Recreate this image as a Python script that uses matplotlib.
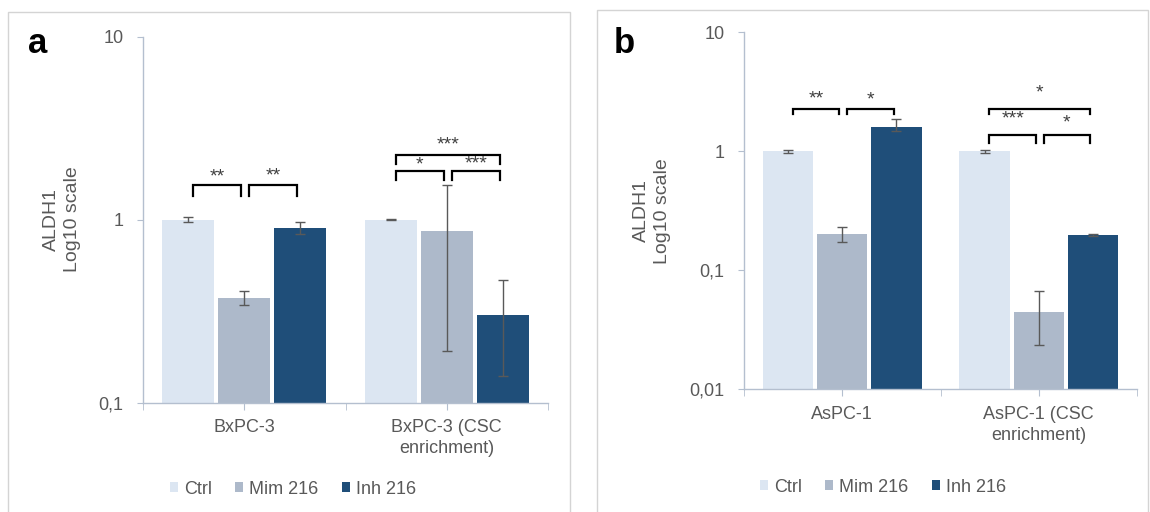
import matplotlib
matplotlib.use("Agg")
import matplotlib.pyplot as plt
from matplotlib.patches import Rectangle
from matplotlib.ticker import FixedLocator, NullLocator

# ======================
# global style
# ======================
plt.rcParams.update(
    {
        "font.family": ["Liberation Sans", "DejaVu Sans"],
        "font.size": 13,
        "text.color": "#595959",
        "axes.edgecolor": "#b4bfcf",
        "axes.linewidth": 1.0,
        "xtick.color": "#b4bfcf",
        "ytick.color": "#b4bfcf",
        "xtick.labelcolor": "#595959",
        "ytick.labelcolor": "#595959",
        "xtick.labelsize": 13,
        "ytick.labelsize": 13,
    }
)

# ======================
# data
# ======================
SERIES = ["Ctrl", "Mim 216", "Inh 216"]
COLORS = ["#dce6f2", "#adb9ca", "#1f4e79"]

# panel a
A_CATEGORIES = ["BxPC-3", "BxPC-3 (CSC\nenrichment)"]
A_CTRL = [1.0, 1.0]
A_MIM = [0.373, 0.87]
A_INH = [0.897, 0.30]
A_CTRL_ERR = [[0.035, 0.003], [0.035, 0.003]]  # [lower, upper]
A_MIM_ERR = [[0.03, 0.68], [0.033, 0.68]]
A_INH_ERR = [[0.066, 0.16], [0.07, 0.17]]
A_YTICKS = [0.1, 1, 10]
A_YTICKLABELS = ["0,1", "1", "10"]
# (category, bar i, bar j, bracket top, leg end, label, label y)
A_SIG = [
    (0, 0, 1, 1.54, 1.34, "**", 1.70),
    (0, 1, 2, 1.54, 1.34, "**", 1.72),
    (1, 0, 1, 1.84, 1.64, "*", 1.98),
    (1, 1, 2, 1.84, 1.64, "***", 2.00),
    (1, 0, 2, 2.25, 2.02, "***", 2.57),
]

# panel b
B_CATEGORIES = ["AsPC-1", "AsPC-1 (CSC\nenrichment)"]
B_CTRL = [1.0, 1.0]
B_MIM = [0.202, 0.0445]
B_INH = [1.59, 0.199]
B_CTRL_ERR = [[0.03, 0.03], [0.03, 0.03]]
B_MIM_ERR = [[0.029, 0.021], [0.03, 0.022]]
B_INH_ERR = [[0.12, 0.003], [0.29, 0.003]]
B_YTICKS = [0.01, 0.1, 1, 10]
B_YTICKLABELS = ["0,01", "0,1", "1", "10"]
B_SIG = [
    (0, 0, 1, 2.27, 2.06, "**", 2.77),
    (0, 1, 2, 2.27, 2.06, "*", 2.68),
    (1, 0, 2, 2.27, 2.06, "*", 3.10),
    (1, 0, 1, 1.38, 1.18, "***", 1.88),
    (1, 1, 2, 1.38, 1.18, "*", 1.73),
]

BAR_STEP = 0.276
BAR_WIDTH = 0.256


def draw_panel(ax, categories, values, errors, yticks, yticklabels, sig, ylabel_x):
    x = list(range(len(categories)))
    for k, (vals, err, color, name) in enumerate(zip(values, errors, COLORS, SERIES)):
        pos = [xi + (k - 1) * BAR_STEP for xi in x]
        ax.bar(pos, vals, width=BAR_WIDTH, color=color, label=name, zorder=2)
        ax.errorbar(pos, vals, yerr=err, fmt="none", ecolor="#595959",
                    elinewidth=1.0, capsize=3.5, capthick=1.0, zorder=3)

    ax.set_yscale("log")
    ax.set_ylim(yticks[0], yticks[-1])
    ax.yaxis.set_major_locator(FixedLocator(yticks))
    ax.set_yticklabels(yticklabels)
    ax.yaxis.set_minor_locator(NullLocator())
    ax.tick_params(axis="y", length=4, pad=10)

    ax.set_xlim(-0.5, len(categories) - 0.5)
    ax.set_xticks(x)
    ax.set_xticklabels(categories, linespacing=1.3)
    ax.set_xticks([-0.5, 0.5, 1.5], minor=True)
    ax.tick_params(axis="x", which="both", length=5, pad=7)

    for side in ["top", "right"]:
        ax.spines[side].set_visible(False)

    ax.text(ylabel_x, 0.5, "ALDH1\nLog10 scale", transform=ax.transAxes,
            rotation=90, ha="center", va="center", fontsize=14,
            linespacing=1.3, multialignment="center")

    # significance brackets
    for cat, i, j, ytop, yleg, label, ylab in sig:
        x0 = cat + (i - 1) * BAR_STEP + 0.025
        x1 = cat + (j - 1) * BAR_STEP - 0.015
        ax.plot([x0, x0, x1, x1], [yleg, ytop, ytop, yleg], color="black",
                lw=1.6, solid_joinstyle="miter", zorder=4, clip_on=False)
        ax.text((x0 + x1) / 2, ylab, label, ha="center", va="center",
                fontsize=14, color="#404040")


fig = plt.figure(figsize=(11.5, 5.12), dpi=100)

# panel frames
fig.patches.append(Rectangle((8 / 1150, -0.01), 562 / 1150, 1 - 11.7 / 512 + 0.01,
                             transform=fig.transFigure, fill=False,
                             edgecolor="#d4d4d4", lw=1.0))
fig.patches.append(Rectangle((597 / 1150, -0.01), 551 / 1150, 1 - 10 / 512 + 0.01,
                             transform=fig.transFigure, fill=False,
                             edgecolor="#d4d4d4", lw=1.0))

ax_a = fig.add_axes([143 / 1150, 1 - 402.5 / 512, 405 / 1150, 366 / 512])
ax_b = fig.add_axes([744 / 1150, 1 - 389.3 / 512, 393 / 1150, 357 / 512])

draw_panel(ax_a, A_CATEGORIES, [A_CTRL, A_MIM, A_INH],
           [A_CTRL_ERR, A_MIM_ERR, A_INH_ERR], A_YTICKS, A_YTICKLABELS,
           A_SIG, -0.201)
draw_panel(ax_b, B_CATEGORIES, [B_CTRL, B_MIM, B_INH],
           [B_CTRL_ERR, B_MIM_ERR, B_INH_ERR], B_YTICKS, B_YTICKLABELS,
           B_SIG, -0.234)

# legends
for ax, cx, cy in [(ax_a, 293, 489), (ax_b, 883, 487)]:
    leg = ax.legend(loc="center", bbox_to_anchor=(cx / 1150, 1 - cy / 512),
                    bbox_transform=fig.transFigure, ncol=3, frameon=False,
                    fontsize=13, handlelength=0.42, handleheight=0.42,
                    handletextpad=0.35, columnspacing=1.3)
    for t in leg.get_texts():
        t.set_color("#595959")

# panel letters
fig.text(28 / 1150, 1 - 53 / 512, "a", fontsize=25, fontweight="bold",
         color="black", ha="left", va="baseline")
fig.text(614 / 1150, 1 - 53 / 512, "b", fontsize=25, fontweight="bold",
         color="black", ha="left", va="baseline")

plt.savefig("out.png", dpi=100)
